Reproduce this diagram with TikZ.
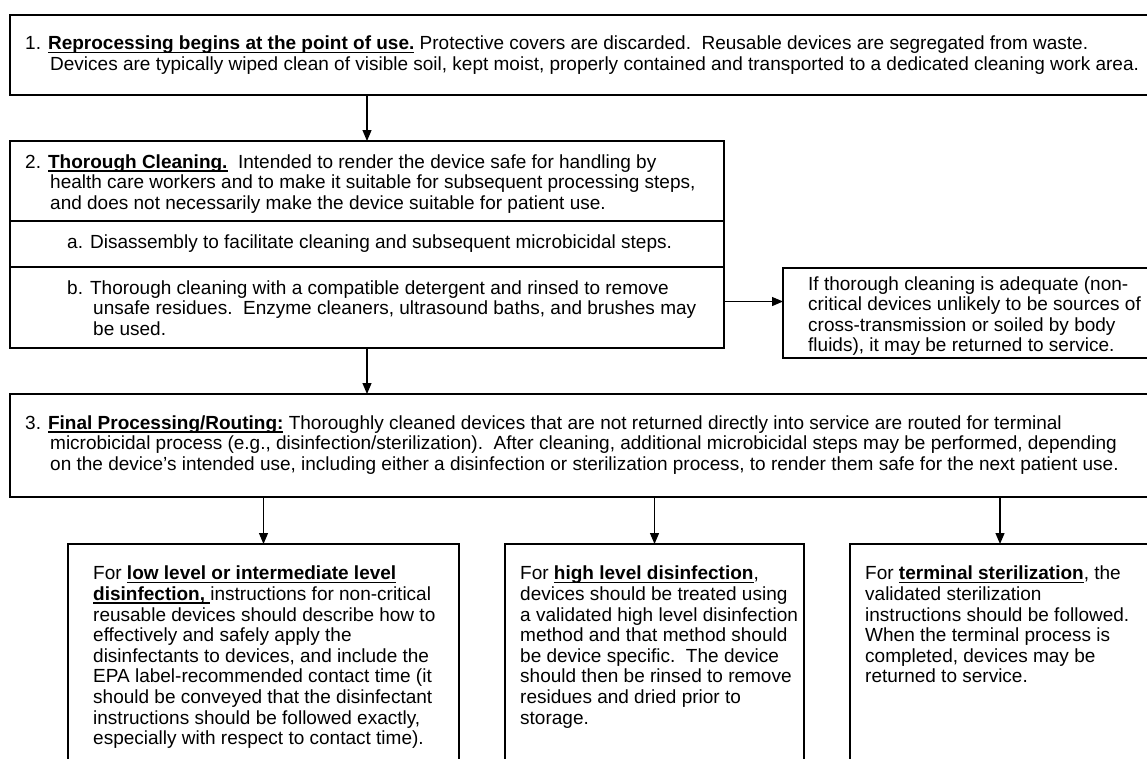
\documentclass[tikz,border=0pt]{standalone}
\usepackage{fontspec}
\setmainfont{Liberation Sans}
\usetikzlibrary{arrows.meta}

\tikzset{
  stepbox/.style={draw, line width=1.6pt, anchor=north west, inner sep=0pt, outer sep=0pt},
  steptext/.style={align=left, inner sep=0pt, font=\fontsize{19}{20.6}\selectfont},
  flow/.style={->, line width=1.2pt}
}
\newcommand{\hd}[1]{\setbox0\hbox{\textbf{#1}}\rlap{\rule[-3.2pt]{\wd0}{1.3pt}}\box0\relax}

\begin{document}
\begin{tikzpicture}[x=1pt, y=-1pt, >={Triangle[length=11pt,width=9pt]}]
\useasboundingbox (0,0) rectangle (1147,758);
\clip (0,0) rectangle (1147,758);

% boxes
\node[stepbox, minimum width=1150, minimum height=80] (step1) at (10,15) {};
\node[stepbox, minimum width=714, minimum height=80] (step2) at (10,141) {};
\node[stepbox, minimum width=714, minimum height=46] (step2a) at (step2.south west) {};
\node[stepbox, minimum width=714, minimum height=81] (step2b) at (step2a.south west) {};
\node[stepbox, minimum width=377, minimum height=90] (reuse) at (783,268) {};
\node[stepbox, minimum width=1150, minimum height=103] (step3) at (10,394) {};
\node[stepbox, minimum width=391, minimum height=260] (lowlvl) at (68,544) {};
\node[stepbox, minimum width=299, minimum height=260] (highlvl) at (505,544) {};
\node[stepbox, minimum width=300, minimum height=260] (steril) at (850,544) {};

% texts
\node[steptext, anchor=west] (step1txt) at (25,55) {1. \hd{Reprocessing begins at the point of use.} Protective covers are discarded.\ \ Reusable devices are segregated from waste.\\
\hspace*{25pt}Devices are typically wiped clean of visible soil, kept moist, properly contained and transported to a dedicated cleaning work area.};
\node[steptext, anchor=west] (step2txt) at (25,184) {2. \hd{Thorough Cleaning.}\ \ Intended to render the device safe for handling by\\
\hspace*{25pt}health care workers and to make it suitable for subsequent processing steps,\\
\hspace*{25pt}and does not necessarily make the device suitable for patient use.};
\node[steptext, anchor=west] (step2atxt) at (67,244) {a. Disassembly to facilitate cleaning and subsequent microbicidal steps.};
\node[steptext, anchor=west] (step2btxt) at (67,308) {b. Thorough cleaning with a compatible detergent and rinsed to remove\\
\hspace*{26pt}unsafe residues.\ \ Enzyme cleaners, ultrasound baths, and brushes may\\
\hspace*{26pt}be used.};
\node[steptext, anchor=west] (reusetxt) at (808,316) {If thorough cleaning is adequate (non-\\critical devices unlikely to be sources of\\cross-transmission or soiled by body\\fluids), it may be returned to service.};
\node[steptext, anchor=west] (step3txt) at (25,445) {3. \hd{Final Processing/Routing:} Thoroughly cleaned devices that are not returned directly into service are routed for terminal\\
\hspace*{25pt}microbicidal process (e.g., disinfection/sterilization).\ \ After cleaning, additional microbicidal steps may be performed, depending\\
\hspace*{25pt}on the device’s intended use, including either a disinfection or sterilization process, to render them safe for the next patient use.};
\node[steptext, anchor=north west] (lowlvltxt) at (93,566) {For \hd{low level or intermediate level}\\\hd{disinfection,\ }instructions for non-critical\\reusable devices should describe how to\\effectively and safely apply the\\disinfectants to devices, and include the\\EPA label-recommended contact time (it\\should be conveyed that the disinfectant\\instructions should be followed exactly,\\especially with respect to contact time).};
\node[steptext, anchor=north west] (highlvltxt) at (520,566) {For \hd{high level disinfection},\\devices should be treated using\\a validated high level disinfection\\method and that method should\\be device specific.\ \ The device\\should then be rinsed to remove\\residues and dried prior to\\storage.};
\node[steptext, anchor=north west] (sterittxt) at (865,566) {For \hd{terminal sterilization}, the\\validated sterilization\\instructions should be followed.\\When the terminal process is\\completed, devices may be\\returned to service.};

% arrows
\draw[flow] (step1.south -| step2.north) -- (step2.north);
\draw[flow] ([yshift=6pt]step2b.east) -- ([yshift=6pt]step2b.east -| reuse.west);
\draw[flow] (step2b.south) -- (step2b.south |- step3.north);
\draw[flow] (step3.south -| lowlvl.north) -- (lowlvl.north);
\draw[flow] (step3.south -| highlvl.north) -- (highlvl.north);
\draw[flow] (step3.south -| steril.north) -- (steril.north);
\end{tikzpicture}
\end{document}
